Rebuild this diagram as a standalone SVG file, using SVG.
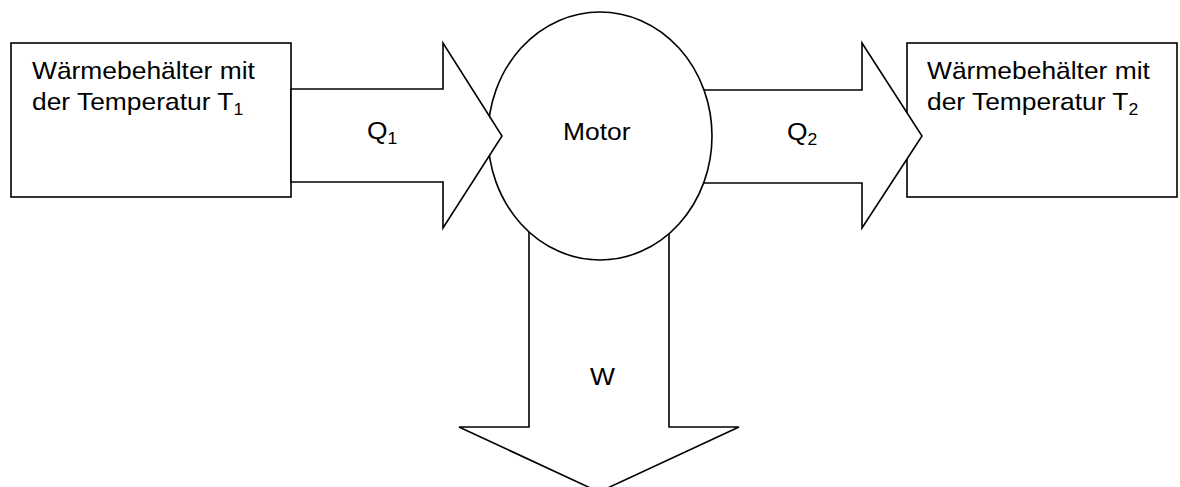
<svg xmlns="http://www.w3.org/2000/svg" width="1180" height="487" viewBox="0 0 1180 487">
<style>
.sh{fill:#fff;stroke:#000;stroke-width:1.6;stroke-linejoin:miter}
.t{font-family:"Liberation Sans",Arial,sans-serif;font-size:24px;fill:#000}
.s{font-size:16px}
</style>
<rect width="1180" height="487" fill="#fff"/>
<g id="box-t1">
<rect class="sh" x="11" y="43" width="280" height="154"/>
<text class="t" transform="translate(32,79) scale(1.1,1)">Wärmebehälter mit</text>
<text class="t" transform="translate(32,110) scale(1.1,1)">der Temperatur T<tspan class="s" dy="5">1</tspan></text>
</g>
<g id="box-t2">
<rect class="sh" x="907" y="43" width="270" height="154"/>
<text class="t" transform="translate(927,79) scale(1.1,1)">Wärmebehälter mit</text>
<text class="t" transform="translate(927,110) scale(1.1,1)">der Temperatur T<tspan class="s" dy="5">2</tspan></text>
</g>
<g id="connectors">
<g id="arrow-w">
<polygon class="sh" points="529,200 529,427 459,427 599,492 739,427 669,427 669,200"/>
<text class="t" transform="translate(590,385) scale(1.1,1)">W</text>
</g>
<g id="arrow-q2">
<polygon class="sh" points="690,90 862,90 862,43 922,136 862,228 862,183 690,183"/>
<text class="t" transform="translate(787,140) scale(1.1,1)">Q<tspan class="s" dy="5">2</tspan></text>
</g>
</g>
<g id="motor">
<ellipse class="sh" cx="600" cy="136" rx="112" ry="124"/>
<text class="t" transform="translate(563,140) scale(1.1,1)">Motor</text>
</g>
<g id="arrow-q1">
<polygon class="sh" points="291,89 443,89 443,43 502,136 443,228 443,182 291,182"/>
<text class="t" transform="translate(367,139) scale(1.1,1)">Q<tspan class="s" dy="5">1</tspan></text>
</g>
</svg>
